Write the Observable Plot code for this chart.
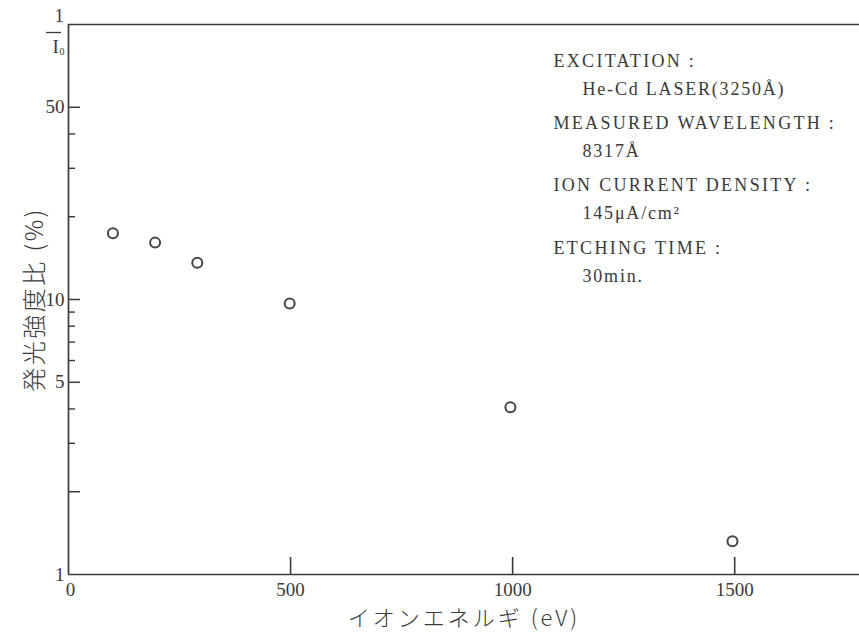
<!DOCTYPE html>
<html><head><meta charset="utf-8">
<script src="https://cdn.jsdelivr.net/npm/d3@7"></script>
<script src="https://cdn.jsdelivr.net/npm/@observablehq/plot@0.6"></script>
<style>
body{margin:0;background:#fff}
#chart svg{background:#fff}
.noteH text{letter-spacing:2.3px}
.noteV text{letter-spacing:1.8px}
.xt text{letter-spacing:3px}
.yt text{letter-spacing:2.5px}
</style>
</head><body><div id="chart"></div>
<script>
// ---- data ----
const energy = [100, 195, 290, 498, 995, 1495];      // ion energy (eV)
const ratio  = [17.4, 16.1, 13.6, 9.67, 4.06, 1.32]; // emission intensity ratio (%)
const xDomain = [0, 1781];
const yDomain = [1, 100];
const xTicks = [500, 1000, 1500];
const xZeroTick = [0];
const yLabelTicks = [1, 5, 10, 50];
const yMajorTicks = [2, 5, 10, 50];
const yMinorTicks = [3, 4, 6, 7, 8, 9, 20, 30, 40];
const noteHeaders = ["EXCITATION :", "MEASURED WAVELENGTH :", "ION CURRENT DENSITY :", "ETCHING TIME :"];
const noteValues  = ["He-Cd LASER(3250Å)", "8317Å", "145μA/cm²", "30min."];
const xTitle = "イオンエネルギ (eV)";
const yTitle = "発光強度比 (%)";

const W = 859, H = 639, ML = 68, MR = 0, MT = 24, MB = 65;
const frameW = W - ML - MR, frameH = H - MT - MB;

const points = energy.map((e, i) => ({e, r: ratio[i]}));
const serif = "'Liberation Serif', 'DejaVu Serif', serif";
const cjk = "'Noto Sans CJK JP', sans-serif";
const ink = "#3a3a3a";

const chart = Plot.plot({
  width: W, height: H,
  marginLeft: ML, marginRight: MR, marginTop: MT, marginBottom: MB,
  style: {fontFamily: serif, fontSize: "19px", color: ink, background: "#fff"},
  x: {domain: xDomain, axis: null},
  y: {type: "log", domain: yDomain, axis: null},
  marks: [
    Plot.ruleX([xDomain[0]], {stroke: ink, strokeWidth: 1.7}),
    Plot.ruleY(yDomain, {stroke: ink, strokeWidth: 1.7}),
    // inward ticks
    Plot.tickY(yMajorTicks, {y: d => d, insetRight: frameW - 12, stroke: ink, strokeWidth: 1.5}),
    Plot.tickY(yMinorTicks, {y: d => d, insetRight: frameW - 7, stroke: ink, strokeWidth: 1.4}),
    Plot.tickX(xTicks, {x: d => d, insetTop: frameH - 17, stroke: ink, strokeWidth: 1.6}),
    // tick labels
    Plot.axisY(yLabelTicks, {tickSize: 0, tickPadding: 4, tickFormat: d => String(d), label: null, fontSize: 19, fill: ink}),
    Plot.axisX(xTicks, {tickSize: 0, tickPadding: 8, tickFormat: d => String(d), label: null, fontSize: 19, fill: ink}),
    Plot.axisX(xZeroTick, {tickSize: 0, tickPadding: 8, dx: 2, tickFormat: d => String(d), label: null, fontSize: 19, fill: ink}),
    // 1 / I0 at the top of the y axis
    Plot.text(["1"], {frameAnchor: "top-left", dx: -14, dy: -9, text: d => d, fontSize: 19, fill: ink, lineAnchor: "middle"}),
    Plot.tickY([yDomain[1]], {y: d => d, dy: 8, insetLeft: -22, insetRight: frameW + 7, stroke: ink, strokeWidth: 1.3}),
    Plot.text(["I"], {frameAnchor: "top-left", dx: -16, dy: 22, text: d => d, fontSize: 19, fill: ink, lineAnchor: "middle"}),
    Plot.text(["0"], {frameAnchor: "top-left", dx: -9, dy: 27, text: d => d, fontSize: 10, fill: ink, lineAnchor: "middle"}),
    // data
    Plot.dot(points, {x: "e", y: "r", r: 5, stroke: "#444", strokeWidth: 2, fill: "none"}),
    // annotation block
    Plot.text([noteHeaders.join("\n")], {frameAnchor: "top-left", dx: 485, dy: -2, text: d => d, textAnchor: "start", lineAnchor: "top", lineHeight: 3.46, fontSize: 18, fill: ink, className: "noteH"}),
    Plot.text([noteValues.join("\n")], {frameAnchor: "top-left", dx: 514, dy: 26, text: d => d, textAnchor: "start", lineAnchor: "top", lineHeight: 3.46, fontSize: 18, fill: ink, className: "noteV"}),
    // axis titles
    Plot.text([xTitle], {frameAnchor: "bottom", dy: 51, text: d => d, textAnchor: "middle", fontSize: 22, fill: ink, fontFamily: cjk, fontWeight: 300, className: "xt"}),
    Plot.text([yTitle], {frameAnchor: "left", dx: -33, rotate: -90, text: d => d, textAnchor: "middle", fontSize: 24, fill: ink, fontFamily: cjk, fontWeight: 300, className: "yt"})
  ]
});
document.getElementById("chart").appendChild(chart);
</script>
</body></html>
